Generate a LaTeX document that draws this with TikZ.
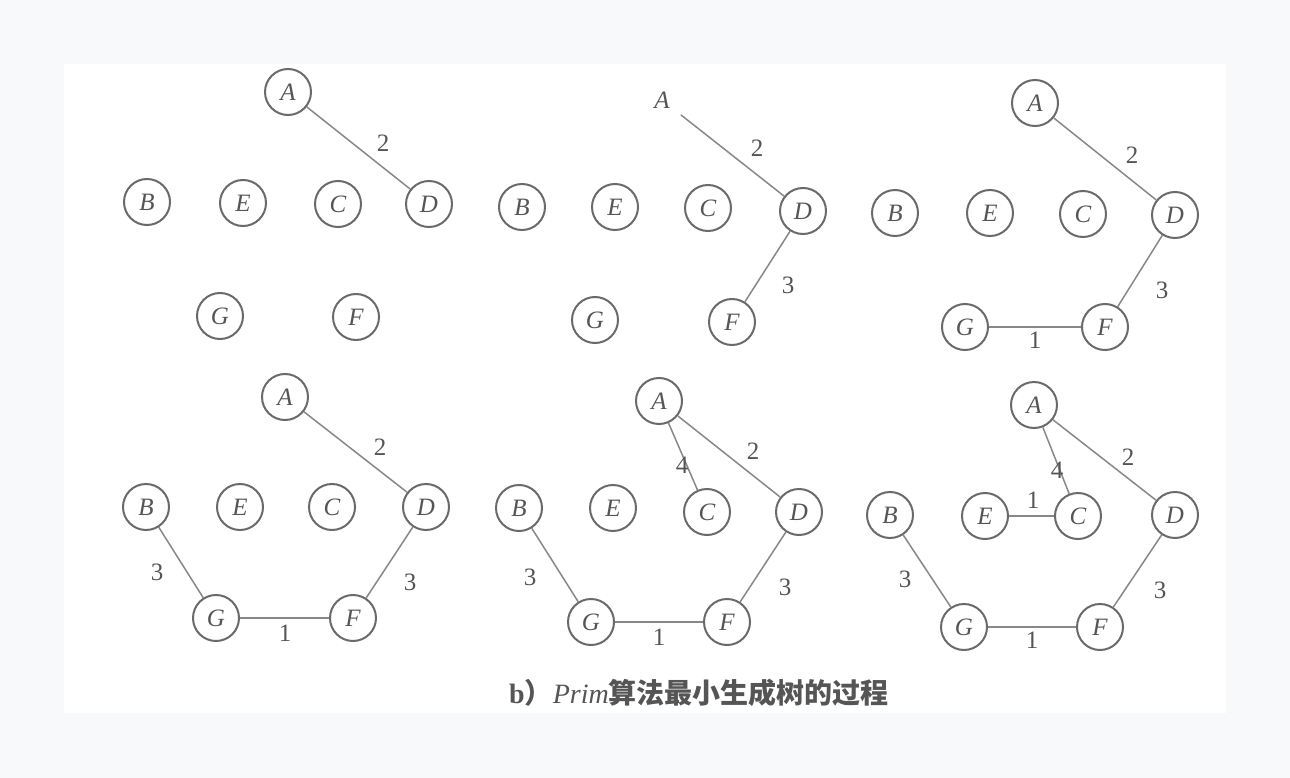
\documentclass[tikz,border=0pt]{standalone}
\usepackage{fontspec}
\setmainfont{Liberation Serif}
\newfontfamily\cjk{Noto Sans CJK SC}
\definecolor{outerbg}{HTML}{F8F9FA}
\definecolor{nodegray}{HTML}{6A6A6A}
\definecolor{edgegray}{HTML}{888888}
\definecolor{textgray}{HTML}{555555}
\tikzset{
  vtx/.style={circle, draw=nodegray, line width=2pt, minimum size=46pt, inner sep=0pt,
    font=\fontsize{25}{25}\selectfont\itshape, text=textgray},
  ghost/.style={vtx, draw=none},
  wt/.style={font=\fontsize{25}{25}\selectfont, text=textgray, inner sep=0pt},
  edg/.style={draw=edgegray, line width=1.5pt},
  capt/.style={font=\fontsize{28}{28}\selectfont, text=textgray, inner sep=0pt}
}
\begin{document}
\begin{tikzpicture}[x=1pt, y=-1pt]
\useasboundingbox (0,0) rectangle (1290,778);
\fill[outerbg] (0,0) rectangle (1290,778);
\fill[white] (64,64) rectangle (1226,713);

% Panel 1
\node[vtx] (A1) at (288,92) {A};
\node[vtx] (B1) at (147,202) {B};
\node[vtx] (E1) at (243,203) {E};
\node[vtx] (C1) at (338,204) {C};
\node[vtx] (D1) at (429,204) {D};
\node[vtx] (G1) at (220,316) {G};
\node[vtx] (F1) at (356,317) {F};
\draw[edg] (A1) -- (D1);
\node[wt] (w1a) at (383,143) {2};

% Panel 2
\node[ghost] (A2) at (662,100) {A};
\node[vtx] (B2) at (522,207) {B};
\node[vtx] (E2) at (615,207) {E};
\node[vtx] (C2) at (708,208) {C};
\node[vtx] (D2) at (803,211) {D};
\node[vtx] (G2) at (595,320) {G};
\node[vtx] (F2) at (732,322) {F};
\draw[edg] (A2) -- (D2);
\draw[edg] (D2) -- (F2);
\node[wt] (w2a) at (757,148) {2};
\node[wt] (w2b) at (788,285) {3};

% Panel 3
\node[vtx] (A3) at (1035,103) {A};
\node[vtx] (B3) at (895,213) {B};
\node[vtx] (E3) at (990,213) {E};
\node[vtx] (C3) at (1083,214) {C};
\node[vtx] (D3) at (1175,215) {D};
\node[vtx] (G3) at (965,327) {G};
\node[vtx] (F3) at (1105,327) {F};
\draw[edg] (A3) -- (D3);
\draw[edg] (D3) -- (F3);
\draw[edg] (G3) -- (F3);
\node[wt] (w3a) at (1132,155) {2};
\node[wt] (w3b) at (1162,290) {3};
\node[wt] (w3c) at (1035,340) {1};

% Panel 4
\node[vtx] (A4) at (285,397) {A};
\node[vtx] (B4) at (146,507) {B};
\node[vtx] (E4) at (240,507) {E};
\node[vtx] (C4) at (332,507) {C};
\node[vtx] (D4) at (426,507) {D};
\node[vtx] (G4) at (216,618) {G};
\node[vtx] (F4) at (353,618) {F};
\draw[edg] (A4) -- (D4);
\draw[edg] (B4) -- (G4);
\draw[edg] (D4) -- (F4);
\draw[edg] (G4) -- (F4);
\node[wt] (w4a) at (380,447) {2};
\node[wt] (w4b) at (157,572) {3};
\node[wt] (w4c) at (410,582) {3};
\node[wt] (w4d) at (285,633) {1};

% Panel 5
\node[vtx] (A5) at (659,401) {A};
\node[vtx] (B5) at (519,508) {B};
\node[vtx] (E5) at (613,508) {E};
\node[vtx] (C5) at (707,512) {C};
\node[vtx] (D5) at (799,512) {D};
\node[vtx] (G5) at (591,622) {G};
\node[vtx] (F5) at (727,622) {F};
\draw[edg] (A5) -- (D5);
\draw[edg] (A5) -- (C5);
\draw[edg] (B5) -- (G5);
\draw[edg] (D5) -- (F5);
\draw[edg] (G5) -- (F5);
\node[wt] (w5a) at (753,451) {2};
\node[wt] (w5b) at (682,465) {4};
\node[wt] (w5c) at (530,577) {3};
\node[wt] (w5d) at (785,587) {3};
\node[wt] (w5e) at (659,637) {1};

% Panel 6
\node[vtx] (A6) at (1034,405) {A};
\node[vtx] (B6) at (890,515) {B};
\node[vtx] (E6) at (985,516) {E};
\node[vtx] (C6) at (1078,516) {C};
\node[vtx] (D6) at (1175,515) {D};
\node[vtx] (G6) at (964,627) {G};
\node[vtx] (F6) at (1100,627) {F};
\draw[edg] (A6) -- (D6);
\draw[edg] (A6) -- (C6);
\draw[edg] (E6) -- (C6);
\draw[edg] (B6) -- (G6);
\draw[edg] (D6) -- (F6);
\draw[edg] (G6) -- (F6);
\node[wt] (w6a) at (1128,457) {2};
\node[wt] (w6b) at (1057,470) {4};
\node[wt] (w6c) at (1033,500) {1};
\node[wt] (w6d) at (905,579) {3};
\node[wt] (w6e) at (1160,590) {3};
\node[wt] (w6f) at (1032,640) {1};

% Caption
\node[capt] (cap) at (699,693) {\textbf{b}{\cjk\bfseries ）}\textit{Prim}{\cjk\bfseries 算法最小生成树的过程}};
\end{tikzpicture}
\end{document}
